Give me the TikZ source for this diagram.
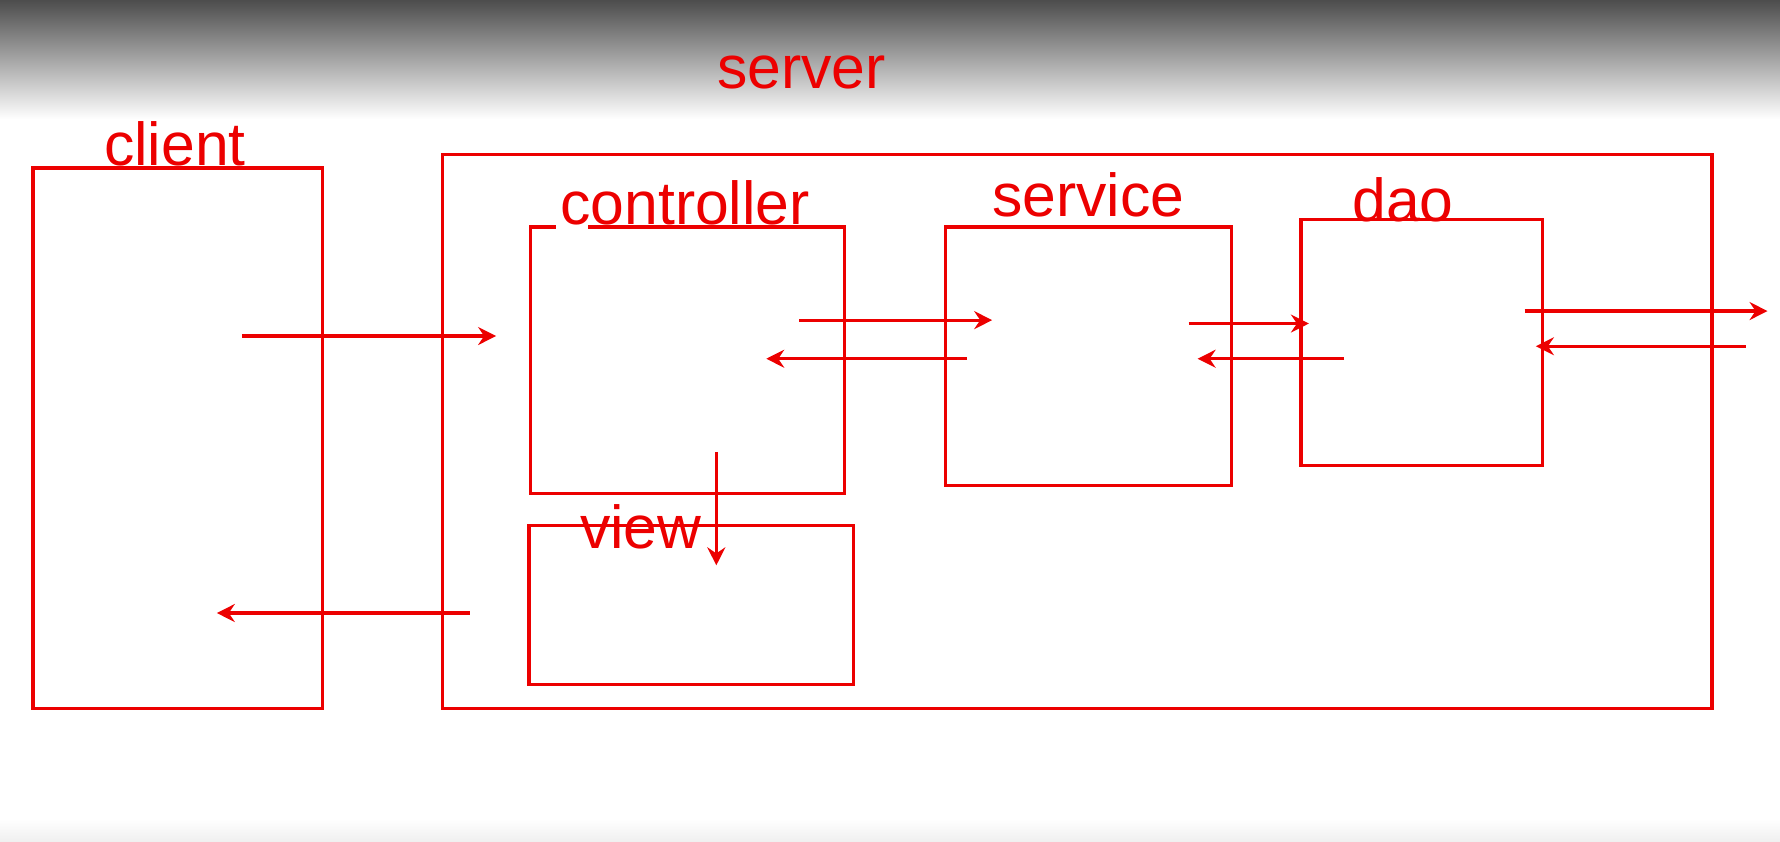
\documentclass[tikz,border=0pt]{standalone}
\usepackage{fontspec}
\setmainfont{Liberation Sans}
\usetikzlibrary{arrows.meta}
\definecolor{pen}{RGB}{236,0,0}
\tikzset{
	box/.style={draw=pen, thick, inner sep=0pt},
	lbl/.style={text=pen, anchor=base, inner sep=0pt, font=\fontsize{15.2}{18}\selectfont},
	flow/.style={draw=pen, thick, -{Stealth[length=4.5pt,width=4.5pt,inset=1.5pt]}}
}
\begin{document}
\begin{tikzpicture}
	\useasboundingbox (0,0) rectangle (15.68,7.41);
	\shade[top color=black!70, bottom color=white] (0,6.36) rectangle (15.68,7.41);
	\shade[top color=white, bottom color=black!6] (0,0) rectangle (15.68,0.2);

	\node[box, minimum width=2.55cm, minimum height=4.76cm] (client) at (1.565,3.55) {};
	\node[box, minimum width=11.18cm, minimum height=4.88cm] (server) at (9.49,3.61) {};
	\node[box, minimum width=2.77cm, minimum height=2.35cm] (ctrl) at (6.055,4.235) {};
	\node[box, minimum width=2.52cm, minimum height=2.28cm] (svc) at (9.59,4.27) {};
	\node[box, minimum width=2.13cm, minimum height=2.17cm] (dao) at (12.525,4.395) {};
	\node[box, minimum width=2.86cm, minimum height=1.40cm] (view) at (6.09,2.08) {};
	\fill[white] (4.90,5.36) rectangle (5.18,5.46);

	\node[lbl] (serverlbl) at (7.06,6.63) {server};
	\node[lbl] (clientlbl) at (1.54,5.95) {client};
	\node[lbl] (ctrllbl) at (6.035,5.43) {controller};
	\node[lbl] (svclbl) at (9.585,5.50) {service};
	\node[lbl] (daolbl) at (12.36,5.46) {dao};
	\node[lbl] (viewlbl) at (5.645,2.58) {view};

	\coordinate (req-a) at (2.13,4.45);   \coordinate (req-b) at (4.37,4.45);
	\coordinate (cs-a) at (7.04,4.59);    \coordinate (cs-b) at (8.74,4.59);
	\coordinate (sc-a) at (8.52,4.25);    \coordinate (sc-b) at (6.75,4.25);
	\coordinate (sd-a) at (10.47,4.56);   \coordinate (sd-b) at (11.53,4.56);
	\coordinate (ds-a) at (11.84,4.25);   \coordinate (ds-b) at (10.55,4.25);
	\coordinate (out-a) at (13.43,4.67);  \coordinate (out-b) at (15.57,4.67);
	\coordinate (in-a) at (15.38,4.36);   \coordinate (in-b) at (13.53,4.36);
	\coordinate (cv-a) at (6.31,3.43);    \coordinate (cv-b) at (6.31,2.43);
	\coordinate (resp-a) at (4.14,2.01);  \coordinate (resp-b) at (1.91,2.01);

	\draw[flow] (req-a) -- (req-b);
	\draw[flow] (cs-a) -- (cs-b);
	\draw[flow] (sc-a) -- (sc-b);
	\draw[flow] (sd-a) -- (sd-b);
	\draw[flow] (ds-a) -- (ds-b);
	\draw[flow] (out-a) -- (out-b);
	\draw[flow] (in-a) -- (in-b);
	\draw[flow] (cv-a) -- (cv-b);
	\draw[flow] (resp-a) -- (resp-b);
\end{tikzpicture}
\end{document}
